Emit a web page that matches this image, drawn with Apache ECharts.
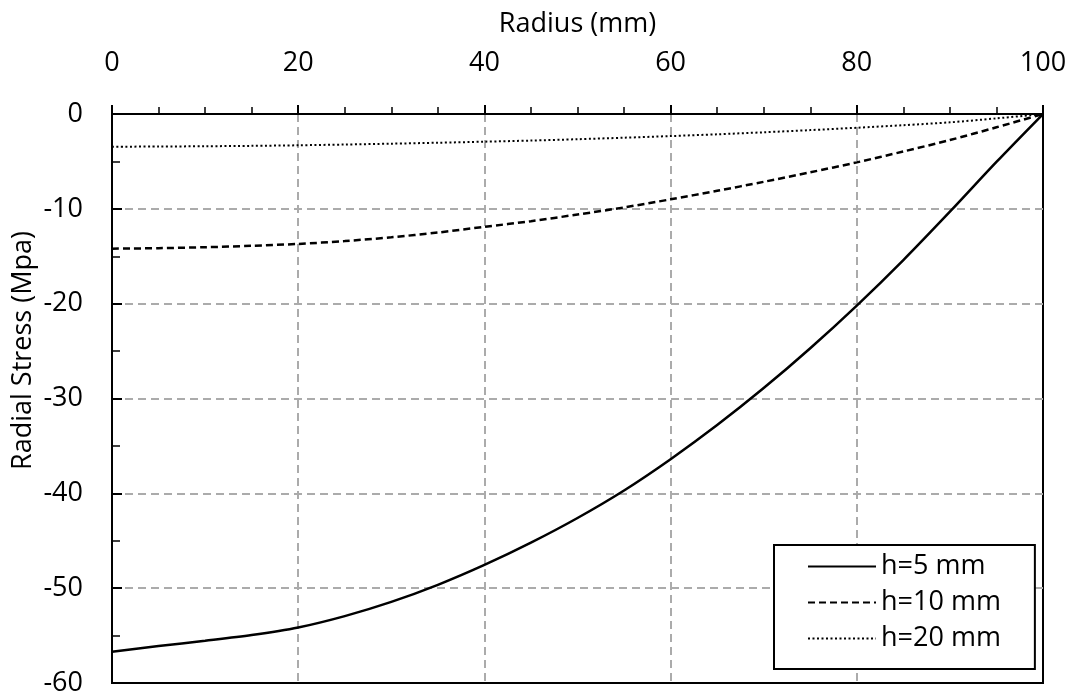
<!DOCTYPE html>
<html>
<head>
<meta charset="utf-8">
<script src="https://cdn.jsdelivr.net/npm/echarts@6/dist/echarts.min.js"></script>
<style>
  html, body { margin: 0; padding: 0; background: #fff; }
  #chart { width: 1080px; height: 699px; }
</style>
</head>
<body>
<div id="chart"></div>
<script>
// Radius positions (mm)
const radius = [0, 5, 10, 15, 20, 25, 30, 35, 40, 45, 50, 55, 60, 65, 70, 75, 80, 85, 90, 95, 100];

// Radial stress (MPa) for each plate thickness
const stressH5  = [-56.7, -56.1, -55.55, -54.95, -54.15, -52.95, -51.45, -49.65, -47.55, -45.2, -42.6, -39.7, -36.4, -32.8, -28.9, -24.7, -20.2, -15.4, -10.3, -5.05, 0];
const stressH10 = [-14.2, -14.15, -14.05, -13.9, -13.7, -13.4, -13.0, -12.5, -11.9, -11.3, -10.6, -9.85, -9.0, -8.1, -7.15, -6.15, -5.1, -3.95, -2.75, -1.4, 0];
const stressH20 = [-3.45, -3.43, -3.4, -3.36, -3.3, -3.22, -3.13, -3.03, -2.92, -2.8, -2.66, -2.5, -2.33, -2.14, -1.93, -1.7, -1.45, -1.18, -0.88, -0.46, 0];

const seriesNames = ['h=5 mm', 'h=10 mm', 'h=20 mm'];
const xTicks = [0, 20, 40, 60, 80, 100];
const yTicks = [0, -10, -20, -30, -40, -50, -60];

const FONT = '"Open Sans", "Noto Sans", sans-serif';
const FS = 27;

function pairs(ys) { return radius.map((x, i) => [x, ys[i]]); }

const chart = echarts.init(document.getElementById('chart'), null, { renderer: 'canvas' });

chart.setOption({
  animation: false,
  backgroundColor: '#ffffff',
  grid: {
    left: 112, right: 37, top: 114, bottom: 16,
    show: true, borderColor: '#000', borderWidth: 2
  },
  xAxis: {
    type: 'value',
    position: 'top',
    min: 0, max: 100, interval: 20,
    name: 'Radius (mm)',
    nameLocation: 'middle',
    nameGap: 76,
    nameMoveOverlap: false,
    nameTextStyle: { fontFamily: FONT, fontSize: FS, color: '#000' },
    axisLine: { onZero: false, lineStyle: { color: '#000', width: 2 } },
    axisTick: { show: true, inside: false, length: 9, lineStyle: { color: '#000', width: 2 } },
    minorTick: { show: true, splitNumber: 4, length: 7, lineStyle: { color: '#000', width: 1.5 } },
    axisLabel: { margin: 37, fontFamily: FONT, fontSize: FS, color: '#000',
      formatter: v => xTicks.includes(v) ? String(v) : '' },
    splitLine: { show: true, showMinLine: false, showMaxLine: false,
      lineStyle: { color: '#ababab', width: 2, type: [8, 5] } }
  },
  yAxis: {
    type: 'value',
    min: -60, max: 0, interval: 10,
    name: 'Radial Stress (Mpa)',
    nameLocation: 'middle',
    nameGap: 75,
    nameMoveOverlap: false,
    nameTextStyle: { fontFamily: FONT, fontSize: FS, color: '#000', padding: [0, 0, 0, 96] },
    axisLine: { onZero: false, lineStyle: { color: '#000', width: 2 } },
    axisTick: { show: true, inside: true, length: 10, lineStyle: { color: '#000', width: 2 } },
    minorTick: { show: true, splitNumber: 2, length: 8, lineStyle: { color: '#000', width: 1.5 } },
    axisLabel: { margin: 29, fontFamily: FONT, fontSize: FS, color: '#000',
      formatter: v => yTicks.includes(v) ? String(v) : '' },
    splitLine: { show: true, showMinLine: false, showMaxLine: false,
      lineStyle: { color: '#ababab', width: 2, type: [8, 5] } }
  },
  legend: {
    orient: 'vertical',
    left: 774, top: 545,
    backgroundColor: '#fff',
    borderColor: '#000', borderWidth: 2, borderRadius: 0,
    padding: [8, 34, 17, 33],
    itemGap: 9,
    itemWidth: 68, itemHeight: 27,
    itemStyle: { color: 'rgba(0,0,0,0)', borderWidth: 0 },
    textStyle: { fontFamily: FONT, fontSize: FS, color: '#000' },
    data: seriesNames
  },
  series: [
    {
      name: seriesNames[0], type: 'line', data: pairs(stressH5),
      smooth: 0.3, symbol: 'none',
      lineStyle: { color: '#000', width: 2.5, type: 'solid' },
      itemStyle: { color: '#000' }
    },
    {
      name: seriesNames[1], type: 'line', data: pairs(stressH10),
      smooth: 0.3, symbol: 'none',
      lineStyle: { color: '#000', width: 2.5, type: [7, 4] },
      itemStyle: { color: '#000' }
    },
    {
      name: seriesNames[2], type: 'line', data: pairs(stressH20),
      smooth: 0.3, symbol: 'none',
      lineStyle: { color: '#000', width: 2, type: [2, 2.5] },
      itemStyle: { color: '#000' }
    }
  ]
});
</script>
</body>
</html>
